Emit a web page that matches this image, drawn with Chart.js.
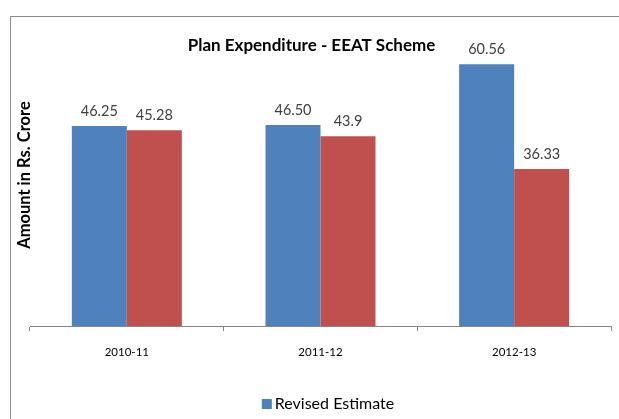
<!DOCTYPE html>
<html>
<head>
<meta charset="utf-8">
<script src="https://cdn.jsdelivr.net/npm/chart.js@4.4.1/dist/chart.umd.min.js"></script>
<style>
    html, body { margin: 0; padding: 0; background: #fff; overflow: hidden; }
    #frame {
        position: absolute; left: 10px; top: 16px;
        width: 700px; height: 500px;
        border: 1px solid #8c8c8c;
    }
    #wrap { position: absolute; left: 0; top: 0; width: 619px; height: 419px; }
</style>
</head>
<body>
<div id="frame"></div>
<div id="wrap"><canvas id="planChart"></canvas></div>
<script>
const years = ["2010-11", "2011-12", "2012-13"];
const revisedEstimate = [46.25, 46.50, 60.56];
const expenditure = [45.28, 43.9, 36.33];
const revisedLabels = ["46.25", "46.50", "60.56"];
const expenditureLabels = ["45.28", "43.9", "36.33"];
const yTitle = "Amount in Rs. Crore";

// value text above bars, plus the rotated axis title and the one-item legend
const extras = {
    id: "extras",
    afterDatasetsDraw(chart) {
        const ctx = chart.ctx;
        ctx.save();
        ctx.font = "14.5px Lato";
        ctx.fillStyle = "#404040";
        ctx.textAlign = "center";
        ctx.textBaseline = "alphabetic";
        chart.data.datasets.forEach((ds, i) => {
            const meta = chart.getDatasetMeta(i);
            meta.data.forEach((bar, j) => {
                ctx.fillText(ds.valueLabels[j], bar.x, bar.y - 10);
            });
        });
        ctx.restore();
    },
    afterDraw(chart) {
        const ctx = chart.ctx;
        ctx.save();
        // y axis title
        ctx.translate(25, 175);
        ctx.rotate(-Math.PI / 2);
        ctx.font = "bold 16.5px Lato";
        ctx.fillStyle = "#000";
        ctx.textAlign = "center";
        ctx.textBaseline = "middle";
        ctx.fillText(yTitle, 0, 0);
        ctx.restore();

        // legend (first series only)
        const ds = chart.data.datasets[0];
        ctx.save();
        ctx.font = "16px Lato";
        const tw = ctx.measureText(ds.label).width;
        const total = 10 + 3 + tw;
        const x0 = 328 - total / 2;
        ctx.fillStyle = ds.backgroundColor;
        ctx.fillRect(x0, 399, 10, 10);
        ctx.fillStyle = "#000";
        ctx.textAlign = "left";
        ctx.textBaseline = "middle";
        ctx.fillText(ds.label, x0 + 13, 404);
        ctx.restore();
    },
};

const ctx = document.getElementById("planChart");

new Chart(ctx, {
    type: "bar",
    data: {
        labels: years,
        datasets: [
            {
                label: "Revised Estimate",
                data: revisedEstimate,
                valueLabels: revisedLabels,
                backgroundColor: "#4f81bd",
                borderWidth: 0,
            },
            {
                label: "Expenditure",
                data: expenditure,
                valueLabels: expenditureLabels,
                backgroundColor: "#c0504d",
                borderWidth: 0,
            },
        ],
    },
    options: {
        responsive: true,
        maintainAspectRatio: false,
        animation: false,
        events: [],
        layout: {
            padding: { left: 12, right: 8, top: 0, bottom: 34 },
        },
        datasets: {
            bar: {
                categoryPercentage: 0.568,
                barPercentage: 1,
            },
        },
        plugins: {
            title: {
                display: true,
                text: "Plan Expenditure - EEAT Scheme",
                color: "#000",
                font: { family: "Lato", size: 17, weight: "bold", lineHeight: 1.2 },
                padding: { top: 35, bottom: 0 },
            },
            legend: { display: false },
            tooltip: { enabled: false },
        },
        scales: {
            x: {
                grid: {
                    drawOnChartArea: false,
                    drawTicks: true,
                    tickLength: 5,
                    color: "#868686",
                },
                border: { display: true, color: "#868686" },
                ticks: {
                    color: "#000",
                    font: { family: "Lato", size: 11.5 },
                    padding: 14,
                },
                afterFit(scale) {
                    scale.height = 59;
                },
            },
            y: {
                min: 0,
                max: 62.6,
                grid: { display: false },
                border: { display: false },
                ticks: { display: false },
                afterFit(scale) {
                    scale.width = 18;
                },
            },
        },
    },
    plugins: [extras],
});
</script>
</body>
</html>
